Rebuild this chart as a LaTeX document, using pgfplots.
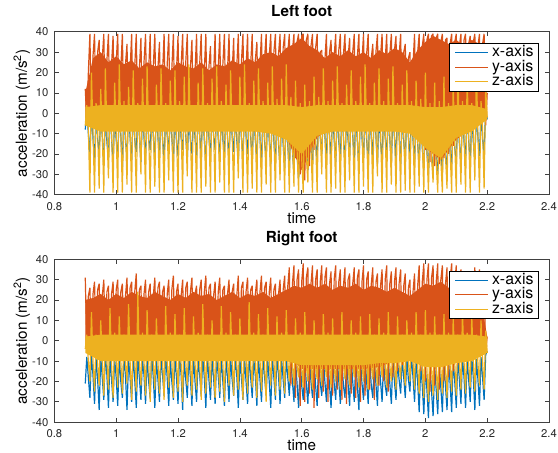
\documentclass[border=0pt]{standalone}
\usepackage{fontspec}
\setmainfont{TeX Gyre Heros}
\usepackage{pgfplots}
\usepackage{pgfplotstable}
\pgfplotsset{compat=1.18}
\definecolor{mblue}{rgb}{0,0.447,0.741}
\definecolor{morange}{rgb}{0.85,0.325,0.098}
\definecolor{myellow}{rgb}{0.929,0.694,0.125}
\definecolor{mframe}{rgb}{0.25,0.25,0.25}
\begin{document}
\pgfplotstableread{
t b o z
90000 -8 12 -6
90500 2 -4 4
91000 -10 20 -8
91500 -20 39 -39
92000 0 -5 20
92500 -12 28 -9
93000 -24 39 -39
93500 1 -6 5
94000 -13 30 -8
94500 -19 36 -37
95000 -1 -4 12
95500 -11 27 -10
96000 -26 39 -39
96500 0 -7 22
97000 -14 26 -9
97500 -22 39 -32
98000 2 -5 4
98500 -12 24 -8
99000 -25 38 -39
99500 0 -6 15
100000 -13 25 -10
100500 -21 39 -39
101000 -1 -5 24
101500 -11 22 -9
102000 -27 39 -39
102500 1 -4 6
103000 -14 24 -8
103500 -20 34 -35
104000 0 -6 13
104500 -12 21 -9
105000 -23 39 -39
105500 2 -7 21
106000 -13 23 -10
106500 -19 39 -39
107000 0 -5 5
107500 -11 22 -8
108000 -24 37 -30
108500 -1 -6 17
109000 -12 25 -9
109500 -21 39 -39
110000 1 -4 23
110500 -13 21 -10
111000 -18 39 -39
111500 0 -6 4
112000 -11 23 -8
112500 -23 39 -36
113000 2 -5 14
113500 -12 22 -9
114000 -20 35 -39
114500 0 -7 22
115000 -13 20 -10
115500 -22 39 -39
116000 -1 -5 5
116500 -11 24 -8
117000 -19 39 -33
117500 1 -6 16
118000 -12 22 -9
118500 -24 39 -39
119000 0 -4 21
119500 -14 21 -10
120000 -21 38 -39
120500 2 -6 6
121000 -12 23 -8
121500 -18 39 -39
122000 0 -5 18
122500 -11 25 -9
123000 -23 39 -31
123500 -1 -7 24
124000 -13 22 -10
124500 -20 36 -39
125000 1 -5 4
125500 -12 20 -8
126000 -22 39 -39
126500 0 -6 15
127000 -11 24 -9
127500 -19 39 -39
128000 2 -4 22
128500 -13 21 -10
129000 -24 39 -36
129500 0 -6 5
130000 -12 23 -8
130500 -21 33 -39
131000 -1 -5 17
131500 -11 19 -9
132000 -18 39 -39
132500 1 -7 23
133000 -12 22 -10
133500 -23 39 -34
134000 0 -5 6
134500 -13 24 -8
135000 -20 39 -39
135500 2 -6 14
136000 -12 21 -9
136500 -22 39 -39
137000 0 -4 21
137500 -11 20 -10
138000 -19 37 -39
138500 -1 -6 4
139000 -13 23 -8
139500 -24 39 -32
140000 1 -5 18
140500 -12 25 -9
141000 -21 39 -39
141500 0 -7 24
142000 -11 22 -10
142500 -20 39 -39
143000 2 -5 5
143500 -12 24 -8
144000 -23 39 -37
144500 0 -6 16
145000 -13 26 -9
145500 -22 35 -39
146000 -1 -4 22
146500 -12 24 -10
147000 -24 39 -39
147500 1 -6 6
148000 -14 27 -9
148500 -23 39 -35
149000 0 -5 15
149500 -13 28 -10
150000 -25 39 -39
150500 2 -7 23
151000 -14 30 -10
151500 -24 39 -39
152000 0 -8 7
152500 -15 29 -11
153000 -26 39 -33
153500 -1 -9 17
154000 -15 32 -12
154500 -27 39 -39
155000 0 -11 24
155500 -16 30 -13
156000 -28 39 -39
156500 -2 -15 8
157000 -18 31 -15
157500 -30 39 -36
158000 -3 -22 16
158500 -20 35 -18
159000 -32 39 -39
159500 -4 -30 5
160000 -22 38 -22
160500 -30 39 -39
161000 -3 -33 14
161500 -21 36 -21
162000 -28 39 -34
162500 -2 -26 6
163000 -18 33 -17
163500 -25 39 -39
164000 -1 -18 18
164500 -15 32 -13
165000 -22 39 -39
165500 0 -10 8
166000 -12 30 -10
166500 -20 31 -30
167000 1 -6 22
167500 -11 26 -8
168000 -23 39 -39
168500 2 -5 6
169000 -12 30 -9
169500 -21 36 -39
170000 0 -6 16
170500 -13 28 -10
171000 -24 39 -37
171500 1 -4 23
172000 -14 31 -8
172500 -22 39 -39
173000 0 -6 5
173500 -12 29 -9
174000 -25 39 -39
174500 -1 -5 14
175000 -13 27 -10
175500 -21 37 -33
176000 2 -7 21
176500 -11 30 -8
177000 -23 39 -39
177500 0 -5 6
178000 -14 28 -9
178500 -26 39 -39
179000 1 -6 18
179500 -12 26 -10
180000 -22 39 -36
180500 0 -4 24
181000 -13 29 -8
181500 -24 39 -39
182000 -1 -6 5
182500 -12 27 -9
183000 -21 34 -39
183500 2 -5 15
184000 -11 30 -10
184500 -25 39 -31
185000 0 -7 22
185500 -14 28 -8
186000 -23 39 -39
186500 1 -5 6
187000 -12 26 -9
187500 -20 39 -39
188000 0 -6 17
188500 -13 29 -10
189000 -24 39 -35
189500 -1 -4 23
190000 -12 31 -8
190500 -22 38 -39
191000 2 -6 5
191500 -11 28 -9
192000 -25 39 -39
192500 0 -5 14
193000 -14 30 -10
193500 -23 34 -38
194000 1 -7 21
194500 -12 27 -8
195000 -21 30 -39
195500 0 -8 6
196000 -13 24 -10
196500 -24 39 -39
197000 -1 -10 16
197500 -15 30 -12
198000 -25 39 -36
198500 -2 -12 7
199000 -17 33 -14
199500 -28 39 -39
200000 -3 -18 20
200500 -19 36 -18
201000 -30 39 -39
201500 -4 -24 5
202000 -21 38 -22
202500 -29 39 -34
203000 -4 -26 15
203500 -22 37 -24
204000 -30 39 -39
204500 -3 -25 6
205000 -21 35 -23
205500 -28 39 -39
206000 -3 -22 18
206500 -20 36 -21
207000 -27 37 -37
207500 -2 -20 5
208000 -19 34 -18
208500 -25 39 -39
209000 -1 -16 14
209500 -17 35 -15
210000 -23 39 -39
210500 0 -12 22
211000 -15 33 -12
211500 -24 39 -35
212000 1 -10 6
212500 -14 36 -11
213000 -22 39 -39
213500 0 -8 17
214000 -13 34 -10
214500 -25 38 -39
215000 -1 -7 5
215500 -14 35 -9
216000 -23 39 -33
216500 1 -6 21
217000 -12 33 -10
217500 -21 39 -39
218000 0 -5 6
218500 -13 34 -8
219000 -19 39 -37
219500 2 -6 12
220000 -3 10 -2
}\lefttab
\pgfplotstableread{
t b o z
90000 -21 31 -4
90500 -8 -2 3
91000 -18 22 -10
91500 -28 26 -20
92000 -7 -4 14
92500 -17 23 -10
93000 -31 29 -25
93500 -9 -3 3
94000 -19 25 -11
94500 -34 28 -22
95000 -8 -5 10
95500 -18 22 -9
96000 -29 30 -27
96500 -6 -4 2
97000 -17 24 -10
97500 -33 27 -24
98000 -8 -2 16
98500 -19 23 -11
99000 -30 29 -28
99500 -9 -4 4
100000 -18 25 -9
100500 -32 30 -23
101000 -7 -5 12
101500 -20 24 -10
102000 -28 28 -26
102500 -8 -3 3
103000 -17 22 -11
103500 -34 31 -21
104000 -9 -4 18
104500 -18 26 -10
105000 -30 29 -29
105500 -7 -6 2
106000 -19 24 -9
106500 -33 33 -25
107000 -8 -4 24
107500 -18 25 -11
108000 -29 27 -22
108500 -9 -3 4
109000 -17 23 -10
109500 -31 30 -27
110000 -8 -5 15
110500 -20 24 -9
111000 -28 28 -30
111500 -7 -4 3
112000 -18 22 -11
112500 -33 31 -24
113000 -9 -2 11
113500 -19 26 -10
114000 -30 29 -26
114500 -8 -4 2
115000 -17 24 -9
115500 -27 27 -29
116000 -7 -5 17
116500 -18 23 -11
117000 -32 30 -23
117500 -9 -3 4
118000 -20 25 -10
118500 -29 32 -28
119000 -8 -4 13
119500 -18 24 -9
120000 -31 28 -25
120500 -7 -6 3
121000 -17 22 -11
121500 -34 30 -30
122000 -9 -4 16
122500 -19 26 -10
123000 -28 29 -22
123500 -8 -3 2
124000 -18 24 -9
124500 -32 31 -27
125000 -7 -5 12
125500 -20 23 -11
126000 -30 27 -24
126500 -9 -4 4
127000 -17 25 -10
127500 -27 30 -29
128000 -8 -2 18
128500 -18 24 -9
129000 -33 32 -26
129500 -7 -4 3
130000 -19 26 -11
130500 -29 28 -23
131000 -9 -5 10
131500 -18 22 -10
132000 -31 29 -28
132500 -8 -3 2
133000 -17 24 -9
133500 -28 31 -25
134000 -7 -4 17
134500 -20 25 -11
135000 -32 27 -30
135500 -9 -6 4
136000 -18 23 -10
136500 -30 30 -22
137000 -8 -4 14
137500 -19 24 -9
138000 -27 28 -27
138500 -7 -3 3
139000 -17 22 -11
139500 -33 32 -24
140000 -9 -5 11
140500 -18 26 -10
141000 -29 29 -29
141500 -8 -4 2
142000 -20 24 -9
142500 -31 31 -26
143000 -7 -2 19
143500 -18 25 -11
144000 -28 27 -23
144500 -9 -4 4
145000 -17 23 -10
145500 -32 30 -28
146000 -8 -5 13
146500 -19 24 -9
147000 -30 32 -25
147500 -7 -3 3
148000 -18 26 -11
148500 -27 29 -30
149000 -9 -4 16
149500 -20 24 -10
150000 -33 31 -22
150500 -8 -6 2
151000 -18 25 -9
151500 -29 28 -27
152000 -7 -4 12
152500 -17 23 -11
153000 -31 30 -24
153500 -9 -5 4
154000 -19 25 -10
154500 -28 32 -26
155000 -8 -8 15
155500 -18 27 -10
156000 -27 36 -20
156500 -9 -22 3
157000 -20 28 -12
157500 -30 37 -22
158000 -10 -28 11
158500 -21 30 -12
159000 -33 35 -18
159500 -9 -32 4
160000 -22 29 -13
160500 -29 38 -23
161000 -10 -30 14
161500 -21 31 -12
162000 -31 36 -20
162500 -9 -26 2
163000 -20 28 -11
163500 -28 37 -24
164000 -10 -33 10
164500 -22 30 -13
165000 -32 35 -19
165500 -9 -28 3
166000 -21 29 -12
166500 -27 37 -22
167000 -8 -25 13
167500 -20 31 -11
168000 -30 36 -18
168500 -10 -30 4
169000 -22 28 -12
169500 -33 34 -23
170000 -9 -27 11
170500 -21 30 -13
171000 -29 37 -20
171500 -8 -24 2
172000 -20 29 -11
172500 -31 35 -24
173000 -10 -29 14
173500 -22 27 -12
174000 -28 36 -19
174500 -9 -31 3
175000 -21 30 -12
175500 -32 33 -22
176000 -8 -26 10
176500 -20 28 -11
177000 -30 36 -18
177500 -10 -28 4
178000 -22 31 -13
178500 -34 35 -23
179000 -9 -30 12
179500 -21 29 -12
180000 -29 37 -20
180500 -8 -27 2
181000 -20 30 -11
181500 -31 34 -24
182000 -10 -24 13
182500 -22 28 -12
183000 -28 36 -19
183500 -9 -29 3
184000 -21 29 -13
184500 -32 33 -22
185000 -8 -22 11
185500 -20 27 -11
186000 -30 35 -18
186500 -10 -20 4
187000 -22 30 -12
187500 -27 37 -23
188000 -9 -25 14
188500 -21 28 -12
189000 -31 34 -20
189500 -8 -18 2
190000 -20 29 -11
190500 -29 36 -24
191000 -10 -15 12
191500 -19 28 -12
192000 -26 35 -19
192500 -9 -12 3
193000 -18 27 -11
193500 -28 33 -22
194000 -8 -8 10
194500 -19 26 -10
195000 -25 30 -20
195500 -7 -5 4
196000 -18 24 -10
196500 -30 33 -24
197000 -9 -10 14
197500 -20 27 -12
198000 -35 37 -26
198500 -12 -15 3
199000 -22 29 -13
199500 -36 38 -28
200000 -13 -20 15
200500 -24 30 -14
201000 -38 38 -30
201500 -12 -25 4
202000 -25 31 -14
202500 -37 37 -27
203000 -13 -22 12
203500 -24 29 -13
204000 -36 38 -29
204500 -12 -24 3
205000 -23 30 -14
205500 -35 37 -26
206000 -11 -20 13
206500 -22 28 -13
207000 -34 36 -28
207500 -10 -18 4
208000 -21 30 -12
208500 -35 38 -25
209000 -9 -15 11
209500 -20 29 -11
210000 -33 37 -27
210500 -9 -12 3
211000 -19 28 -11
211500 -31 35 -24
212000 -8 -8 14
212500 -18 30 -10
213000 -33 33 -26
213500 -9 -6 4
214000 -19 27 -11
214500 -30 30 -23
215000 -8 -5 12
215500 -18 26 -10
216000 -34 36 -25
216500 -9 -4 3
217000 -19 28 -11
217500 -32 35 -22
218000 -8 -6 10
218500 -18 27 -10
219000 -29 26 -24
219500 -7 -4 5
220000 -5 2 -6
}\righttab
% core bands of the dense signal: outline forward along the upper edge, back along the lower edge
\pgfplotstableread{
t y
90000 10
92500 27
95000 30
97500 25
100000 28
102500 24
105000 26
107500 22
110000 25
112500 23
115000 24
117500 21
120000 25
122500 23
125000 22
127500 25
130000 21
132500 24
135000 23
137500 26
140000 24
142500 27
145000 25
147500 29
150000 30
152500 28
155000 32
157500 34
160000 37
162500 33
165000 31
167500 27
170000 30
172500 28
175000 31
177500 28
180000 30
182500 27
185000 31
187500 29
190000 32
192500 30
195000 25
197500 31
200000 35
202500 38
205000 36
207500 34
210000 36
212500 33
215000 36
217500 34
220000 8
220000 -3
215000 -7
210000 -13
205000 -23
200000 -17
195000 -8
190000 -6
185000 -6
180000 -6
175000 -6
170000 -6
165000 -12
160000 -28
155000 -12
150000 -7
145000 -6
140000 -6
135000 -6
130000 -6
125000 -6
120000 -6
115000 -6
110000 -6
105000 -6
100000 -6
95000 -6
90000 -4
}\leftoband
\pgfplotstableread{
t y
90000 3
95000 4
100000 4
105000 4
110000 4
115000 4
120000 4
125000 4
130000 4
135000 4
140000 4
145000 4
150000 4
155000 4
160000 3
165000 4
170000 4
175000 4
180000 4
185000 4
190000 4
195000 4
200000 3
205000 3
210000 4
215000 4
220000 2
220000 -3
215000 -9
210000 -12
205000 -22
200000 -17
195000 -10
190000 -9
185000 -9
180000 -9
175000 -9
170000 -9
165000 -11
160000 -20
155000 -13
150000 -10
145000 -9
140000 -9
135000 -9
130000 -9
125000 -9
120000 -9
115000 -9
110000 -9
105000 -9
100000 -9
95000 -9
90000 -6
}\leftzband
\pgfplotstableread{
t y
90000 20
92500 21
95000 23
97500 20
100000 23
102500 21
105000 24
107500 22
110000 21
112500 24
115000 22
117500 20
120000 23
122500 21
125000 24
127500 22
130000 23
132500 20
135000 22
137500 24
140000 21
142500 23
145000 22
147500 24
150000 21
152500 23
155000 25
157500 27
160000 26
162500 28
165000 26
167500 28
170000 25
172500 27
175000 26
177500 28
180000 25
182500 27
185000 26
187500 24
190000 26
192500 24
195000 22
197500 25
200000 28
202500 27
205000 29
207500 26
210000 28
212500 26
215000 25
217500 24
220000 2
220000 -3
215000 -4
210000 -8
205000 -10
200000 -10
195000 -5
190000 -10
185000 -13
180000 -14
175000 -14
170000 -14
165000 -14
160000 -14
155000 -6
150000 -4
145000 -4
140000 -4
135000 -4
130000 -4
125000 -4
120000 -4
115000 -4
110000 -4
105000 -4
100000 -4
95000 -4
90000 -2
}\rightoband
\pgfplotstableread{
t y
90000 2
95000 3
100000 3
105000 3
110000 3
115000 3
120000 3
125000 3
130000 3
135000 3
140000 3
145000 3
150000 3
155000 3
160000 3
165000 3
170000 3
175000 3
180000 3
185000 3
190000 3
195000 3
200000 3
205000 3
210000 3
215000 3
220000 2
220000 -6
215000 -10
210000 -11
205000 -13
200000 -13
195000 -10
190000 -11
185000 -11
180000 -12
175000 -12
170000 -12
165000 -12
160000 -12
155000 -10
150000 -10
145000 -10
140000 -10
135000 -10
130000 -10
125000 -10
120000 -10
115000 -10
110000 -10
105000 -10
100000 -10
95000 -10
90000 -6
}\rightzband
\pgfplotsset{
  matlabaxis/.style={
    width=373.5pt, height=123pt, scale only axis,
    xmin=80000, xmax=240000, ymin=-40, ymax=40,
    xtick={80000,100000,120000,140000,160000,180000,200000,220000,240000},
    xticklabels={0.8,1,1.2,1.4,1.6,1.8,2,2.2,2.4},
    scaled x ticks=false,
    ytick={-40,-30,-20,-10,0,10,20,30,40},
    yticklabels={-40,-30,-20,-10,0,10,20,30,40},
    tick align=inside, major tick length=3.4pt,
    axis line style={mframe, line width=0.5pt},
    every tick/.style={mframe, line width=0.5pt},
    tick label style={font=\fontsize{8.5}{10}\selectfont, text=black!85},
    xticklabel style={yshift=-2.3pt},
    yticklabel style={xshift=-1pt},
    xlabel={time},
    ylabel={acceleration (m/s\textsuperscript{2})},
    label style={font=\fontsize{11.5}{13}\selectfont},
    xlabel style={at={(axis description cs:0.5,-0.142)}, anchor=center},
    ylabel style={at={(axis description cs:-0.0656,0.5)}, anchor=center},
    title style={font=\fontsize{11.5}{13}\selectfont\bfseries, at={(axis description cs:0.5,1.079)}, anchor=center},
    legend style={at={(axis description cs:0.98,0.931)}, anchor=north east,
      font=\fontsize{12}{12}\selectfont, draw=black, line width=0.5pt, fill=white,
      inner xsep=4pt, inner ysep=1.6pt, row sep=0pt, column sep=2.5pt,
      nodes={inner sep=0pt, text height=8.6pt, text depth=2.3pt}},
    legend cell align=left,
    legend image code/.code={\draw[#1, line width=0.8pt] (0pt,0pt) -- (24.75pt,0pt);},
    clip=true,
  },
  sig/.style={line width=0.9pt, line join=miter, miter limit=1.5},
}
\begin{tikzpicture}
\path[use as bounding box] (-38.25pt,24pt) rectangle (380.25pt,-318pt);
\begin{axis}[matlabaxis, at={(0pt,0pt)}, anchor=north west, title={Left foot}]
\addplot[mblue, sig] table[x=t, y=b] {\lefttab};
\addplot[draw=none, fill=morange, forget plot] table[x=t, y=y] {\leftoband} -- cycle;
\addplot[morange, sig] table[x=t, y=o] {\lefttab};
\addplot[draw=none, fill=myellow, forget plot] table[x=t, y=y] {\leftzband} -- cycle;
\addplot[myellow, sig] table[x=t, y=z] {\lefttab};
\legend{x-axis, y-axis, z-axis}
\node[anchor=east, font=\fontsize{8.5}{10}\selectfont, text=black!85, inner sep=0pt] at (axis description cs:1,0) [xshift=1pt, yshift=-19pt] {$\times$10\textsuperscript{5}};
\end{axis}
\begin{axis}[matlabaxis, at={(0pt,-171.75pt)}, anchor=north west, title={Right foot}]
\addplot[mblue, sig] table[x=t, y=b] {\righttab};
\addplot[draw=none, fill=morange, forget plot] table[x=t, y=y] {\rightoband} -- cycle;
\addplot[morange, sig] table[x=t, y=o] {\righttab};
\addplot[draw=none, fill=myellow, forget plot] table[x=t, y=y] {\rightzband} -- cycle;
\addplot[myellow, sig] table[x=t, y=z] {\righttab};
\legend{x-axis, y-axis, z-axis}
\node[anchor=east, font=\fontsize{8.5}{10}\selectfont, text=black!85, inner sep=0pt] at (axis description cs:1,0) [xshift=1pt, yshift=-19pt] {$\times$10\textsuperscript{5}};
\end{axis}
\end{tikzpicture}
\end{document}
